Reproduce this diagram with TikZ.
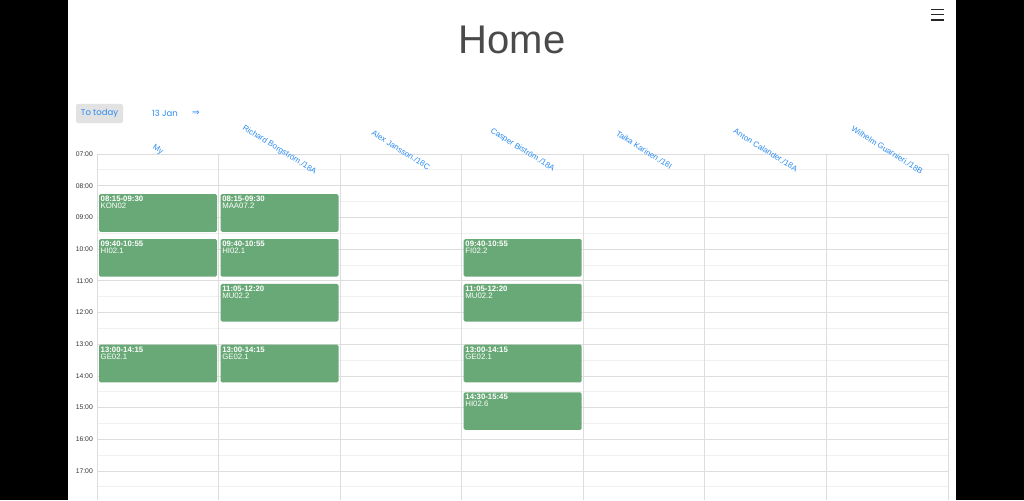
\documentclass[tikz,border=0pt]{standalone}
\usepackage{fontspec}
\setmainfont{Liberation Sans}
\newfontfamily\dejavu{DejaVu Sans}
\newfontfamily\pop{Poppins}
\definecolor{linkblue}{HTML}{2A8BF2}
\definecolor{evgreen}{HTML}{69A977}
\definecolor{gridline}{HTML}{DDDDDD}
\definecolor{halfline}{HTML}{F0F0F0}
\definecolor{btngray}{HTML}{E2E2E2}
\definecolor{titlegray}{HTML}{4A4A4A}
\tikzset{
  hdr/.style={font=\fontsize{8}{8}\selectfont, text=linkblue, rotate=-32, inner sep=0pt},
  tlabel/.style={font=\fontsize{6.8}{7}\selectfont, text=black!80, anchor=east, inner sep=0pt},
  evtext/.style={font=\fontsize{7.8}{7}\selectfont, text=white, anchor=north west, inner sep=0pt, align=left},
  hourln/.style={draw=gridline, line width=0.8pt},
  halfln/.style={draw=halfline, line width=0.8pt},
}
\begin{document}
\begin{tikzpicture}[x=1pt,y=-1pt]
\useasboundingbox (0,0) rectangle (1024,500);
\fill[black] (0,0) rectangle (1024,500);
\fill[white] (68,0) rectangle (956,500);
% title
\node[font=\fontsize{40}{40}\selectfont, text=titlegray, inner sep=0pt] (title) at (512,40) {Home};
% hamburger
\foreach \yy in {9.5,14.5,19.8} \draw[line width=1.8pt, black!85] (931,\yy) -- (944,\yy);
% controls
\node[fill=btngray, rounded corners=2pt, minimum width=47pt, minimum height=19pt, inner sep=0pt,
      font=\pop\fontsize{8.5}{8.5}\selectfont, text=linkblue] (today) at (99.5,113.5) {To today};
\node[font=\pop\fontsize{8.5}{8.5}\selectfont, text=linkblue, inner sep=0pt] (date) at (165,113.5) {13 Jan};
\node[font=\dejavu\fontsize{9}{9}\selectfont, text=linkblue, inner sep=0pt] (next) at (196,113.5) {⇒};
% grid
\foreach \h in {7,...,17} {
  \draw[halfln] (97,{154+(\h-7)*31.7+15.85}) -- (948,{154+(\h-7)*31.7+15.85});
}
\foreach \h in {7,...,17} {
  \draw[hourln] (97,{154+(\h-7)*31.7}) -- (948,{154+(\h-7)*31.7});
}
\foreach \i in {0,...,7} {
  \draw[hourln] ({97+\i*121.57},154) -- ({97+\i*121.57},500);
}
% time labels
\foreach \h [count=\n] in {07,08,09,10,11,12,13,14,15,16,17} {
  \node[tlabel] (t\n) at (93,{154+(\n-1)*31.7}) {\h:00};
}
% headers
\foreach \nm [count=\n from 0] in {My,Richard Borgström./18A,Alex Jansson./18C,Casper Biström./18A,Taika Karinen./18I,Anton Calander./18A,Wilhelm Guarnieri./18B} {
  \node[hdr] (h\n) at ({157.8+\n*121.57},150) {\nm};
}
% events
\foreach \c/\s/\e/\t/\k [count=\n] in {
  0/8.25/9.5/08:15-09:30/KON02,
  0/9.6667/10.9167/09:40-10:55/HI02.1,
  0/13/14.25/13:00-14:15/GE02.1,
  1/8.25/9.5/08:15-09:30/MAA07.2,
  1/9.6667/10.9167/09:40-10:55/HI02.1,
  1/11.0833/12.3333/11:05-12:20/MU02.2,
  1/13/14.25/13:00-14:15/GE02.1,
  3/9.6667/10.9167/09:40-10:55/FI02.2,
  3/11.0833/12.3333/11:05-12:20/MU02.2,
  3/13/14.25/13:00-14:15/GE02.1,
  3/14.5/15.75/14:30-15:45/HI02.6} {
  \fill[evgreen, rounded corners=1.5pt] ({97+\c*121.57+2},{154+(\s-7)*31.7+0.5}) rectangle ({97+\c*121.57+120},{154+(\e-7)*31.7-1.5});
  \coordinate (e\n) at ({97+\c*121.57+3.5},{154+(\s-7)*31.7+2.5});
  \node[evtext] (et\n) at (e\n) {\textbf{\t}\\\k};
}
\end{tikzpicture}
\end{document}
